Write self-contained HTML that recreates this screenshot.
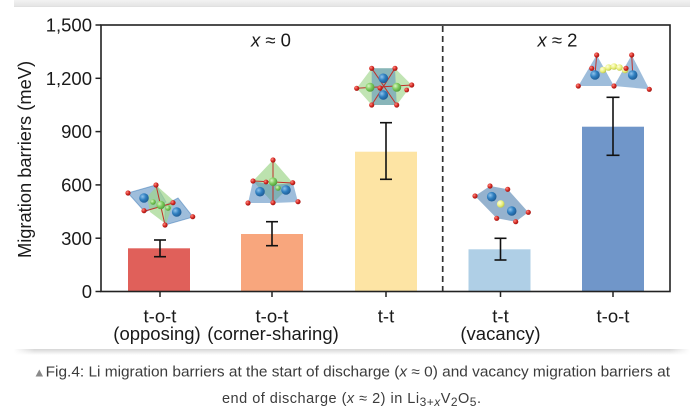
<!DOCTYPE html>
<html>
<head>
<meta charset="utf-8">
<style>
  html,body{margin:0;padding:0;background:#fff;}
  body{width:694px;height:414px;overflow:hidden;}
  svg{display:block;}
  .t{font-family:"Liberation Sans","DejaVu Sans",sans-serif;fill:#1a1a1a;}
  .cap{font-family:"Liberation Sans","DejaVu Sans",sans-serif;fill:#3c3c3c;font-size:14.5px;}
</style>
</head>
<body>
<svg width="694" height="414" viewBox="0 0 694 414" xmlns="http://www.w3.org/2000/svg">
  <defs>
    <linearGradient id="topband" x1="0" y1="0" x2="0" y2="1">
      <stop offset="0" stop-color="#f2f2f2"/>
      <stop offset="0.8" stop-color="#e6e6e6"/>
      <stop offset="1" stop-color="#dcdcdc"/>
    </linearGradient>
    <linearGradient id="botshadow" x1="0" y1="0" x2="0" y2="1">
      <stop offset="0" stop-color="#d6d6d6"/>
      <stop offset="1" stop-color="#ffffff"/>
    </linearGradient>
    <linearGradient id="hfade" x1="0" y1="0" x2="1" y2="0">
      <stop offset="0" stop-color="#fff" stop-opacity="1"/>
      <stop offset="0.03" stop-color="#fff" stop-opacity="0"/>
      <stop offset="0.97" stop-color="#fff" stop-opacity="0"/>
      <stop offset="1" stop-color="#fff" stop-opacity="1"/>
    </linearGradient>
    <radialGradient id="bball" cx="0.35" cy="0.35" r="0.7">
      <stop offset="0" stop-color="#8fc3ec"/>
      <stop offset="0.5" stop-color="#2f7fc0"/>
      <stop offset="1" stop-color="#1d5a93"/>
    </radialGradient>
    <radialGradient id="gball" cx="0.35" cy="0.35" r="0.7">
      <stop offset="0" stop-color="#d8f5c4"/>
      <stop offset="0.5" stop-color="#7fcc5e"/>
      <stop offset="1" stop-color="#4d9a39"/>
    </radialGradient>
    <radialGradient id="yball" cx="0.35" cy="0.35" r="0.7">
      <stop offset="0" stop-color="#ffffe0"/>
      <stop offset="0.6" stop-color="#e9ef7a"/>
      <stop offset="1" stop-color="#b8c24a"/>
    </radialGradient>
    <radialGradient id="rball" cx="0.35" cy="0.35" r="0.7">
      <stop offset="0" stop-color="#ff8a80"/>
      <stop offset="0.55" stop-color="#d42a24"/>
      <stop offset="1" stop-color="#9b1410"/>
    </radialGradient>
  </defs>

  <!-- top gray band -->
  <rect x="14" y="0" width="676" height="7" fill="url(#topband)"/>
  <!-- bottom shadow -->
  <rect x="14" y="349" width="676" height="6" fill="url(#botshadow)"/>
  <rect x="14" y="349" width="676" height="6" fill="url(#hfade)"/>

  <!-- bars -->
  <rect x="128" y="248.3" width="62" height="43.2" fill="#E0605A"/>
  <rect x="241" y="234" width="62" height="57.5" fill="#F8A67D"/>
  <rect x="355" y="151.7" width="62" height="139.8" fill="#FDE4A4"/>
  <rect x="468.5" y="249.3" width="62" height="42.2" fill="#AFCFE6"/>
  <rect x="582" y="126.7" width="62" height="164.8" fill="#7096C9"/>

  <!-- dashed separator -->
  <line x1="442.7" y1="26" x2="442.7" y2="291" stroke="#333" stroke-width="1.7" stroke-dasharray="6,4"/>

  <!-- frame -->
  <rect x="101" y="25" width="569" height="266.5" fill="none" stroke="#222" stroke-width="1.6"/>

  <!-- y ticks -->
  <g stroke="#222" stroke-width="1.5">
    <line x1="95.5" y1="25" x2="101" y2="25"/>
    <line x1="95.5" y1="78.3" x2="101" y2="78.3"/>
    <line x1="95.5" y1="131.6" x2="101" y2="131.6"/>
    <line x1="95.5" y1="184.9" x2="101" y2="184.9"/>
    <line x1="95.5" y1="238.2" x2="101" y2="238.2"/>
    <line x1="95.5" y1="291.5" x2="101" y2="291.5"/>
    <!-- x ticks -->
    <line x1="160" y1="291.5" x2="160" y2="297"/>
    <line x1="272" y1="291.5" x2="272" y2="297"/>
    <line x1="386" y1="291.5" x2="386" y2="297"/>
    <line x1="500.5" y1="291.5" x2="500.5" y2="297"/>
    <line x1="613" y1="291.5" x2="613" y2="297"/>
  </g>

  <!-- y tick labels -->
  <g class="t" font-size="18.5" text-anchor="end">
    <text x="92" y="31.6">1,500</text>
    <text x="92" y="84.9">1,200</text>
    <text x="92" y="138.2">900</text>
    <text x="92" y="191.5">600</text>
    <text x="92" y="244.8">300</text>
    <text x="92" y="298.1">0</text>
  </g>

  <!-- y axis label -->
  <text class="t" font-size="18.3" text-anchor="middle" transform="translate(31,159.5) rotate(-90)">Migration barriers (meV)</text>

  <!-- x labels -->
  <g class="t" font-size="18.5" text-anchor="middle">
    <text x="160" y="322.5">t-o-t</text>
    <text x="157" y="340">(opposing)</text>
    <text x="272" y="322.5">t-o-t</text>
    <text x="273" y="340">(corner-sharing)</text>
    <text x="386" y="322.5">t-t</text>
    <text x="500.5" y="322.5">t-t</text>
    <text x="500.5" y="340">(vacancy)</text>
    <text x="613" y="322.5">t-o-t</text>
  </g>

  <!-- regime labels -->
  <g class="t" font-size="18.5" text-anchor="middle">
    <text x="271" y="46.5"><tspan font-style="italic">x</tspan> ≈ 0</text>
    <text x="557.5" y="46.5"><tspan font-style="italic">x</tspan> ≈ 2</text>
  </g>

  <!-- error bars -->
  <g stroke="#111" stroke-width="1.6" fill="none">
    <line x1="160" y1="240" x2="160" y2="256.7"/>
    <line x1="154" y1="240" x2="166" y2="240"/>
    <line x1="154" y1="256.7" x2="166" y2="256.7"/>

    <line x1="272" y1="221.7" x2="272" y2="245.7"/>
    <line x1="266" y1="221.7" x2="278" y2="221.7"/>
    <line x1="266" y1="245.7" x2="278" y2="245.7"/>

    <line x1="386" y1="122.7" x2="386" y2="179.3"/>
    <line x1="380" y1="122.7" x2="392" y2="122.7"/>
    <line x1="380" y1="179.3" x2="392" y2="179.3"/>

    <line x1="500.5" y1="238.3" x2="500.5" y2="260"/>
    <line x1="494.5" y1="238.3" x2="506.5" y2="238.3"/>
    <line x1="494.5" y1="260" x2="506.5" y2="260"/>

    <line x1="613" y1="97.3" x2="613" y2="155.3"/>
    <line x1="606.5" y1="97.3" x2="619.5" y2="97.3"/>
    <line x1="606.5" y1="155.3" x2="619.5" y2="155.3"/>
  </g>

  <!-- Molecule 1: opposing t-o-t -->
  <g>
    <polygon points="128,193 156,185 166,202 145,212" fill="#4f86bd" fill-opacity="0.55" stroke="#4f86bd" stroke-opacity="0.6"/>
    <polygon points="165,205 178,198 193,217 165,225" fill="#4f86bd" fill-opacity="0.55" stroke="#4f86bd" stroke-opacity="0.6"/>
    <polygon points="147,197 157,186 174,201 166,224 150,212" fill="#9fd68c" fill-opacity="0.7"/>
    <g stroke="#c0302a" stroke-width="1"><line x1="156" y1="185" x2="165" y2="225"/><line x1="145" y1="211" x2="173" y2="203"/></g>
    <circle cx="144" cy="198" r="4.8" fill="url(#bball)"/>
    <circle cx="176.7" cy="212" r="4.8" fill="url(#bball)"/>
    <circle cx="160.7" cy="205" r="4.3" fill="url(#gball)"/>
    <circle cx="153" cy="202" r="2.8" fill="url(#gball)"/>
    <circle cx="168" cy="208" r="2.8" fill="url(#gball)"/>
    <circle cx="128" cy="193" r="2.6" fill="url(#rball)"/>
    <circle cx="156" cy="185" r="2.6" fill="url(#rball)"/>
    <circle cx="144" cy="210.7" r="2.6" fill="url(#rball)"/>
    <circle cx="165" cy="225" r="2.6" fill="url(#rball)"/>
    <circle cx="173" cy="202.7" r="2.6" fill="url(#rball)"/>
    <circle cx="192.7" cy="216.7" r="2.6" fill="url(#rball)"/>
  </g>

  <!-- Molecule 2: corner-sharing t-o-t -->
  <g>
    <polygon points="253,181 273,160 293,183 273,203" fill="#9fd68c" fill-opacity="0.7"/>
    <polygon points="248,203 253,181 273,185 273,203" fill="#4f86bd" fill-opacity="0.55"/>
    <polygon points="298,202 293,183 273,185 273,203" fill="#4f86bd" fill-opacity="0.55"/>
    <g stroke="#c0302a" stroke-width="1"><line x1="273" y1="160" x2="273" y2="203"/><line x1="253" y1="181" x2="293" y2="183"/></g>
    <circle cx="260" cy="191.7" r="4.8" fill="url(#bball)"/>
    <circle cx="286" cy="190" r="4.8" fill="url(#bball)"/>
    <circle cx="273" cy="181.7" r="4.3" fill="url(#gball)"/>
    <circle cx="278" cy="188" r="2.8" fill="url(#gball)"/>
    <circle cx="273" cy="160" r="2.6" fill="url(#rball)"/>
    <circle cx="253" cy="181" r="2.6" fill="url(#rball)"/>
    <circle cx="292.7" cy="182.7" r="2.6" fill="url(#rball)"/>
    <circle cx="266" cy="182" r="2.4" fill="url(#rball)"/>
    <circle cx="248" cy="203" r="2.6" fill="url(#rball)"/>
    <circle cx="273" cy="202.7" r="2.6" fill="url(#rball)"/>
    <circle cx="298" cy="201.7" r="2.6" fill="url(#rball)"/>
  </g>

  <!-- Molecule 3: t-t (x≈0) -->
  <g>
    <polygon points="371.7,68.3 395,68.3 411.7,85 396.7,105 371.7,105 356.7,88.3" fill="#9fd68c" fill-opacity="0.65"/>
    <polygon points="371.7,68.3 395,68.3 396.7,105 371.7,105" fill="#4f86bd" fill-opacity="0.5"/>
    <g stroke="#c0302a" stroke-width="1"><line x1="356.7" y1="88.3" x2="411.7" y2="85"/><line x1="371.7" y1="68.3" x2="396.7" y2="105"/><line x1="395" y1="68.3" x2="371.7" y2="105"/></g>
    <circle cx="383.3" cy="78.3" r="4.8" fill="url(#bball)"/>
    <circle cx="383.3" cy="95" r="4.8" fill="url(#bball)"/>
    <circle cx="370" cy="87.3" r="4.5" fill="url(#gball)"/>
    <circle cx="396.7" cy="87.3" r="4.5" fill="url(#gball)"/>
    <circle cx="371.7" cy="68.3" r="2.6" fill="url(#rball)"/>
    <circle cx="395" cy="68.3" r="2.6" fill="url(#rball)"/>
    <circle cx="356.7" cy="88.3" r="2.6" fill="url(#rball)"/>
    <circle cx="411.7" cy="85" r="2.6" fill="url(#rball)"/>
    <circle cx="380" cy="88" r="2.6" fill="url(#rball)"/>
    <circle cx="371.7" cy="105" r="2.6" fill="url(#rball)"/>
    <circle cx="396.7" cy="105" r="2.6" fill="url(#rball)"/>
    <circle cx="406.7" cy="90" r="2.4" fill="url(#rball)"/>
  </g>

  <!-- Molecule 4: vacancy t-t -->
  <g>
    <polygon points="475,196 490,186 507.7,189.3 528.3,212.3 515.7,221.7 496.7,218.3" fill="#4f7fae" fill-opacity="0.6"/>
    <circle cx="491.7" cy="196.7" r="4.8" fill="url(#bball)"/>
    <circle cx="511.7" cy="211" r="4.8" fill="url(#bball)"/>
    <circle cx="500.7" cy="204" r="3.8" fill="url(#yball)"/>
    <circle cx="490" cy="186" r="2.6" fill="url(#rball)"/>
    <circle cx="507.7" cy="189.3" r="2.6" fill="url(#rball)"/>
    <circle cx="475" cy="196" r="2.6" fill="url(#rball)"/>
    <circle cx="496.7" cy="218.3" r="2.6" fill="url(#rball)"/>
    <circle cx="515.7" cy="221.7" r="2.6" fill="url(#rball)"/>
    <circle cx="528.3" cy="212.3" r="2.6" fill="url(#rball)"/>
  </g>

  <!-- Molecule 5: t-o-t (x≈2) -->
  <g>
    <polygon points="596.7,55 578.3,86 614,86" fill="#4f86bd" fill-opacity="0.55"/>
    <polygon points="631.7,55 614,86 649.3,89.3" fill="#4f86bd" fill-opacity="0.55"/>
    <g stroke="#c0302a" stroke-width="1"><line x1="596.7" y1="55" x2="595" y2="75"/><line x1="631.7" y1="55" x2="632.7" y2="75"/></g>
    <circle cx="595" cy="75" r="4.8" fill="url(#bball)"/>
    <circle cx="632.7" cy="75" r="4.8" fill="url(#bball)"/>
    <circle cx="603" cy="70" r="3.3" fill="url(#yball)"/>
    <circle cx="608.5" cy="67.5" r="3.3" fill="url(#yball)"/>
    <circle cx="614" cy="66.5" r="3.3" fill="url(#yball)"/>
    <circle cx="619.5" cy="67.5" r="3.3" fill="url(#yball)"/>
    <circle cx="625" cy="70" r="3.3" fill="url(#yball)"/>
    <circle cx="596.7" cy="55" r="2.6" fill="url(#rball)"/>
    <circle cx="631.7" cy="55" r="2.6" fill="url(#rball)"/>
    <circle cx="591.7" cy="68.3" r="2.6" fill="url(#rball)"/>
    <circle cx="626" cy="68.3" r="2.6" fill="url(#rball)"/>
    <circle cx="578.3" cy="86" r="2.6" fill="url(#rball)"/>
    <circle cx="614" cy="86" r="2.6" fill="url(#rball)"/>
    <circle cx="649.3" cy="89.3" r="2.6" fill="url(#rball)"/>
  </g>

  <!-- caption -->
  <text class="cap" x="33" y="376.5" textLength="637" lengthAdjust="spacingAndGlyphs"><tspan fill="#8a8a8a" font-size="12">▲</tspan>Fig.4: Li migration barriers at the start of discharge (<tspan font-style="italic">x</tspan> ≈ 0) and vacancy migration barriers at</text>
  <text class="cap" x="222" y="403" textLength="259" lengthAdjust="spacing">end of discharge (<tspan font-style="italic">x</tspan> ≈ 2) in Li<tspan font-size="12" dy="3">3+</tspan><tspan font-size="12" font-style="italic">x</tspan><tspan dy="-3">V</tspan><tspan font-size="12" dy="3">2</tspan><tspan dy="-3">O</tspan><tspan font-size="12" dy="3">5</tspan><tspan dy="-3">.</tspan></text>
</svg>
</body>
</html>
